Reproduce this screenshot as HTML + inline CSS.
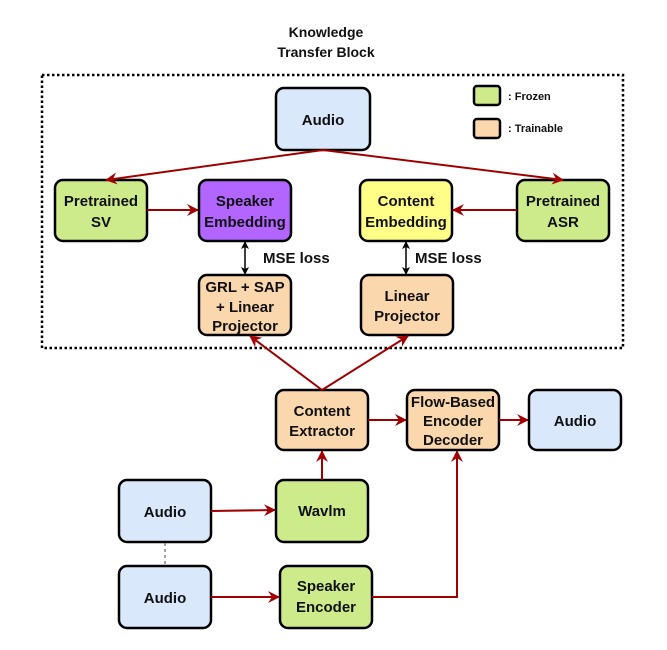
<!DOCTYPE html>
<html><head><style>
body{margin:0;background:#fff;}
svg text{font-family:"Liberation Sans",sans-serif;font-weight:bold;fill:#111;}
</style></head><body>
<svg width="667" height="645" viewBox="0 0 667 645" xmlns="http://www.w3.org/2000/svg">
<defs>
<marker id="a" markerWidth="12" markerHeight="12" refX="11" refY="6" orient="auto" markerUnits="userSpaceOnUse"><path d="M0,0 L12,6 L0,12 L4,6 Z" fill="#a00000"/></marker>
<marker id="b" markerWidth="8" markerHeight="8" refX="7" refY="4" orient="auto" markerUnits="userSpaceOnUse"><path d="M0,0 L8,4 L0,8 L2,4 Z" fill="#000"/></marker>
<marker id="bs" markerWidth="8" markerHeight="8" refX="1" refY="4" orient="auto" markerUnits="userSpaceOnUse"><path d="M8,0 L0,4 L8,8 L6,4 Z" fill="#000"/></marker>
</defs>
<text x="326" y="37" font-size="14" text-anchor="middle">Knowledge</text>
<text x="326" y="57" font-size="14" text-anchor="middle">Transfer Block</text>
<rect x="42" y="75" width="581" height="273" fill="none" stroke="#000" stroke-width="2.5" stroke-dasharray="2.5,2.5"/>
<g stroke="#000" stroke-width="2.5">
<rect x="276" y="88" width="94" height="62" rx="8" fill="#dae8fc"/>
<rect x="474" y="86" width="26" height="19" rx="3" fill="#cdeb8b"/>
<rect x="474" y="119" width="26" height="19" rx="3" fill="#fad7ac"/>
<rect x="55" y="180" width="92" height="61" rx="8" fill="#cdeb8b"/>
<rect x="199" y="180" width="92" height="61" rx="8" fill="#b266ff"/>
<rect x="360" y="180" width="92" height="61" rx="8" fill="#ffff88"/>
<rect x="517" y="180" width="92" height="61" rx="8" fill="#cdeb8b"/>
<rect x="199" y="275" width="92" height="60" rx="8" fill="#fad7ac"/>
<rect x="361" y="275" width="92" height="60" rx="8" fill="#fad7ac"/>
<rect x="276" y="390" width="92" height="60" rx="8" fill="#fad7ac"/>
<rect x="407" y="390" width="92" height="60" rx="8" fill="#fad7ac"/>
<rect x="529" y="390" width="92" height="60" rx="8" fill="#dae8fc"/>
<rect x="119" y="480" width="92" height="62" rx="8" fill="#dae8fc"/>
<rect x="276" y="480" width="92" height="62" rx="8" fill="#cdeb8b"/>
<rect x="119" y="566" width="92" height="62" rx="8" fill="#dae8fc"/>
<rect x="280" y="566" width="92" height="62" rx="8" fill="#cdeb8b"/>
</g>
<g font-size="15" text-anchor="middle">
<text x="323" y="125">Audio</text>
<text x="101" y="206">Pretrained</text><text x="101" y="227">SV</text>
<text x="245" y="206">Speaker</text><text x="245" y="227">Embedding</text>
<text x="406" y="206">Content</text><text x="406" y="227">Embedding</text>
<text x="563" y="206">Pretrained</text><text x="563" y="227">ASR</text>
<text x="245" y="292">GRL + SAP</text><text x="245" y="312">+ Linear</text><text x="245" y="331">Projector</text>
<text x="407" y="301">Linear</text><text x="407" y="321">Projector</text>
<text x="322" y="416">Content</text><text x="322" y="436">Extractor</text>
<text x="453" y="407">Flow-Based</text><text x="453" y="426">Encoder</text><text x="453" y="445">Decoder</text>
<text x="575" y="426">Audio</text>
<text x="165" y="517">Audio</text>
<text x="322" y="516">Wavlm</text>
<text x="165" y="603">Audio</text>
<text x="326" y="591">Speaker</text><text x="326" y="612">Encoder</text>
</g>
<text x="508" y="100" font-size="11">: Frozen</text>
<text x="508" y="132" font-size="11">: Trainable</text>
<text x="263" y="263" font-size="15">MSE loss</text>
<text x="415" y="263" font-size="15">MSE loss</text>
<g stroke="#a00000" stroke-width="2" fill="none" marker-end="url(#a)">
<line x1="323" y1="150" x2="106" y2="180"/>
<line x1="323" y1="150" x2="563" y2="180"/>
<line x1="147" y1="210" x2="198" y2="210"/>
<line x1="517" y1="210" x2="453" y2="210"/>
<line x1="322" y1="390" x2="250" y2="336"/>
<line x1="322" y1="390" x2="408" y2="336"/>
<line x1="368" y1="420" x2="406" y2="420"/>
<line x1="499" y1="420" x2="528" y2="420"/>
<line x1="322" y1="480" x2="322" y2="451"/>
<line x1="211" y1="511" x2="275" y2="510"/>
<line x1="211" y1="597" x2="279" y2="597"/>
<polyline points="372,597 457,597 457,451"/>
</g>
<g stroke="#000" stroke-width="1.5" marker-end="url(#b)" marker-start="url(#bs)">
<line x1="245" y1="242" x2="245" y2="274"/>
<line x1="406" y1="242" x2="406" y2="274"/>
</g>
<line x1="165" y1="543" x2="165" y2="565" stroke="#666" stroke-width="1.2" stroke-dasharray="3,3"/>
</svg>
</body></html>
